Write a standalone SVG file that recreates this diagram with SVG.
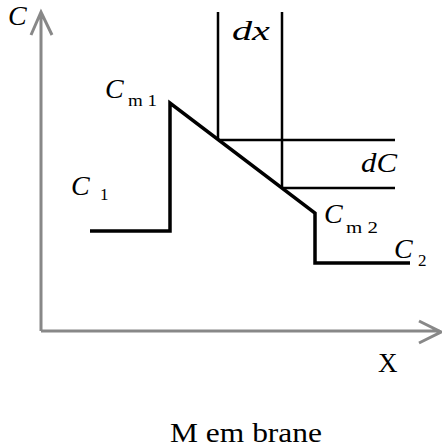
<svg xmlns="http://www.w3.org/2000/svg" width="442" height="448" viewBox="0 0 442 448">
<style>
.ax{stroke:#888;stroke-width:3;fill:none}
.pr{stroke:#000;stroke-width:3.5;fill:none;stroke-linejoin:miter}
.th{stroke:#000;stroke-width:2.5;fill:none}
.it{font-family:"Liberation Serif",serif;font-style:italic;font-size:28px;fill:#000}
.sub{font-family:"Liberation Serif",serif;font-size:17px;fill:#000}
.rm{font-family:"Liberation Serif",serif;font-size:27px;fill:#000}
</style>
<rect width="442" height="448" fill="#fff"/>
<g id="connectors">
<path class="ax" d="M41,331 V12 M31,35 L41,12 L52,35"/>
<path class="ax" d="M41,331 H440 M419,321 L441,332 L419,343"/>
<path class="th" d="M218,12 V140 M282,12 V188 M218,140 H395 M282,188 H395"/>
<path class="pr" d="M90,231 H170 V103 L315,213 V263 H410"/>
</g>
<g id="label-C"><text class="it" x="8" y="25">C</text></g>
<g id="label-Cm1"><text class="it" x="105" y="98">C</text><text class="sub" x="128" y="106" textLength="29" lengthAdjust="spacingAndGlyphs">m 1</text></g>
<g id="label-C1"><text class="it" x="71" y="195">C</text><text class="sub" x="100" y="200">1</text></g>
<g id="label-dx"><text class="it" x="232" y="40" textLength="38" lengthAdjust="spacingAndGlyphs">dx</text></g>
<g id="label-dC"><text class="it" x="361" y="172" textLength="36" lengthAdjust="spacingAndGlyphs">dC</text></g>
<g id="label-Cm2"><text class="it" x="324" y="223">C</text><text class="sub" x="346" y="233" textLength="32" lengthAdjust="spacingAndGlyphs">m 2</text></g>
<g id="label-C2"><text class="it" x="394" y="258">C</text><text class="sub" x="418" y="266">2</text></g>
<g id="label-X"><text class="rm" x="378" y="372">X</text></g>
<g id="label-membrane"><text class="rm" x="170" y="442" textLength="152" lengthAdjust="spacingAndGlyphs">M em brane</text></g>
</svg>
